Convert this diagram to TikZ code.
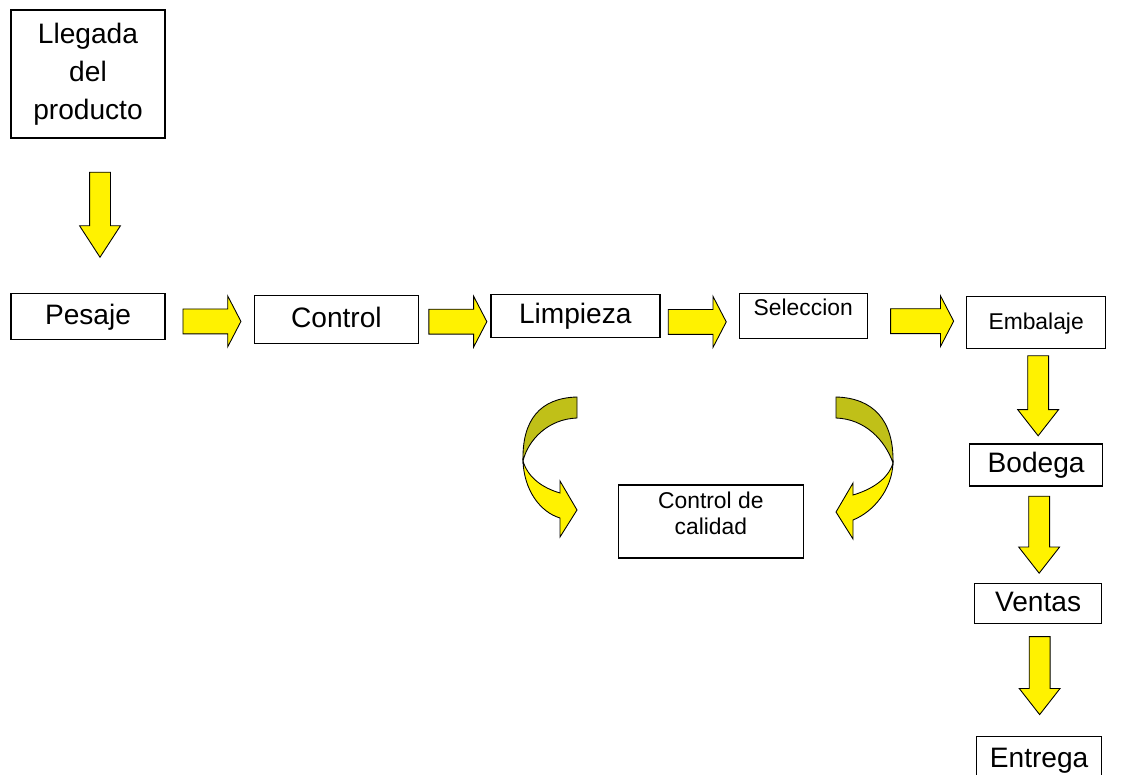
\documentclass[tikz,border=0pt]{standalone}
\usepackage{fontspec}
\setmainfont{Liberation Sans}
\usetikzlibrary{positioning,calc,shapes.arrows}
\definecolor{olivebk}{RGB}{192,192,24}

\begin{document}
\begin{tikzpicture}[
    x=0.2mm, y=-0.2mm,
    font=\fontsize{16}{21.5}\selectfont,
    box/.style={
		rectangle,
		draw=black,
		line width=0.8pt,
		fill=white,
		inner sep=0pt,
		text centered
	},
	big/.style={
		text height=4mm,
		text depth=0.8mm
	},
	small/.style={
		font=\fontsize{13}{15}\selectfont
	},
	fwd/.style={
		single arrow,
		draw=black,
		fill=yellow,
		line width=0.5pt,
		inner xsep=0pt,
		inner ysep=2.4mm,
		minimum height=11.6mm,
		single arrow head extend=2.6mm,
		single arrow tip angle=125
	},
	down/.style={
		single arrow,
		draw=black,
		fill=yellow,
		line width=0.5pt,
		inner xsep=0pt,
		inner ysep=2mm,
		rotate=-90,
		minimum height=16mm,
		single arrow head extend=2mm,
		single arrow tip angle=76
	},
	curlarrow/.style={
		draw=black,
		line width=0.5pt
	}
  ]
  \useasboundingbox (0,0) rectangle (1127,775);

  % the boxes
  \node [box, align=center, minimum width=30.8mm, minimum height=25.6mm] (llegada) at (88,74)
  {Llegada\\del\\producto};
  \node [box, big, minimum width=30.8mm, minimum height=9.2mm, below=30.8mm of llegada] (pesaje) {Pesaje};
  \node [box, big, minimum width=32.8mm, minimum height=9.6mm, right=17.6mm of pesaje, yshift=-0.6mm] (control) {Control};
  \node [box, big, minimum width=33.8mm, minimum height=8.6mm, right=14.2mm of control, yshift=0.7mm] (limpieza) {Limpieza};
  \node [box, small, text height=3.6mm, text depth=3.6mm, minimum width=25.6mm, minimum height=9mm,
         right=15.6mm of limpieza] (seleccion) {Seleccion};
  \node [box, small, text height=3.2mm, text depth=0.4mm, minimum width=27.8mm, minimum height=10.4mm,
         right=19.6mm of seleccion, yshift=-1.3mm] (embalaje) {Embalaje};
  \node [box, big, minimum width=26.6mm, minimum height=8.4mm, below=18.8mm of embalaje] (bodega) {Bodega};
  \node [box, big, minimum width=25.4mm, minimum height=8mm, below=19.2mm of bodega, xshift=0.4mm] (ventas) {Ventas};
  \node [box, big, minimum width=25mm, minimum height=9mm, below=22.4mm of ventas, xshift=0.2mm] (entrega) {Entrega};
  \node [box, small, align=center, text depth=3.2mm, minimum width=37mm, minimum height=14.6mm,
         below=29.2mm of limpieza, xshift=27.1mm] (calidad) {Control de\\calidad};

  % yellow arrows between the boxes
  \node [down, minimum height=17mm, single arrow tip angle=66] (a0) at ($(llegada.south)!0.5!(pesaje.north) + (12,-9)$) {};
  \node [fwd] (a1) at ($(pesaje.east)!0.5!(control.west) + (-1,3.5)$) {};
  \node [fwd] (a2) at ($(control.east)!0.5!(limpieza.west) + (0,4)$) {};
  \node [fwd] (a3) at ($(limpieza.east)!0.5!(seleccion.west) + (-5.5,6)$) {};
  \node [fwd, minimum height=12.6mm] (a4) at ($(seleccion.east)!0.5!(embalaje.west) + (2,2)$) {};
  \node [down] (a5) at ($(embalaje.south)!0.5!(bodega.north) + (2,-7)$) {};
  \node [down, minimum height=15.4mm] (a6) at ($(bodega.south)!0.5!(ventas.north) + (2,-6.5)$) {};
  \node [down, minimum height=15.6mm] (a7) at ($(ventas.south)!0.5!(entrega.north) + (1,-11)$) {};

  % curved arrows towards the quality check
  \begin{scope}[shift={(577,397)}]
    \filldraw [curlarrow, fill=olivebk] (0,0) -- (0,21) .. controls (-29,22) and (-49,43) .. (-54,64)
      .. controls (-55,23) and (-37,1) .. (0,0) -- cycle;
    \filldraw [curlarrow, fill=yellow] (-54,64) .. controls (-53,93) and (-37,115) .. (-17,121)
      -- (-17,140) -- (0,113) -- (-17,84) -- (-17,96) .. controls (-34,91) and (-49,81) .. (-54,64) -- cycle;
  \end{scope}
  \begin{scope}[shift={(836,397)}, xscale=-1]
    \filldraw [curlarrow, fill=olivebk] (0,0) -- (0,21) .. controls (-29,22) and (-49,43) .. (-57,66)
      .. controls (-58,23) and (-37,1) .. (0,0) -- cycle;
    \filldraw [curlarrow, fill=yellow] (-57,66) .. controls (-56,93) and (-37,115) .. (-17,123)
      -- (-17,142) -- (0,115) -- (-17,86) -- (-17,98) .. controls (-34,93) and (-52,83) .. (-57,66) -- cycle;
  \end{scope}

\end{tikzpicture}
\end{document}
